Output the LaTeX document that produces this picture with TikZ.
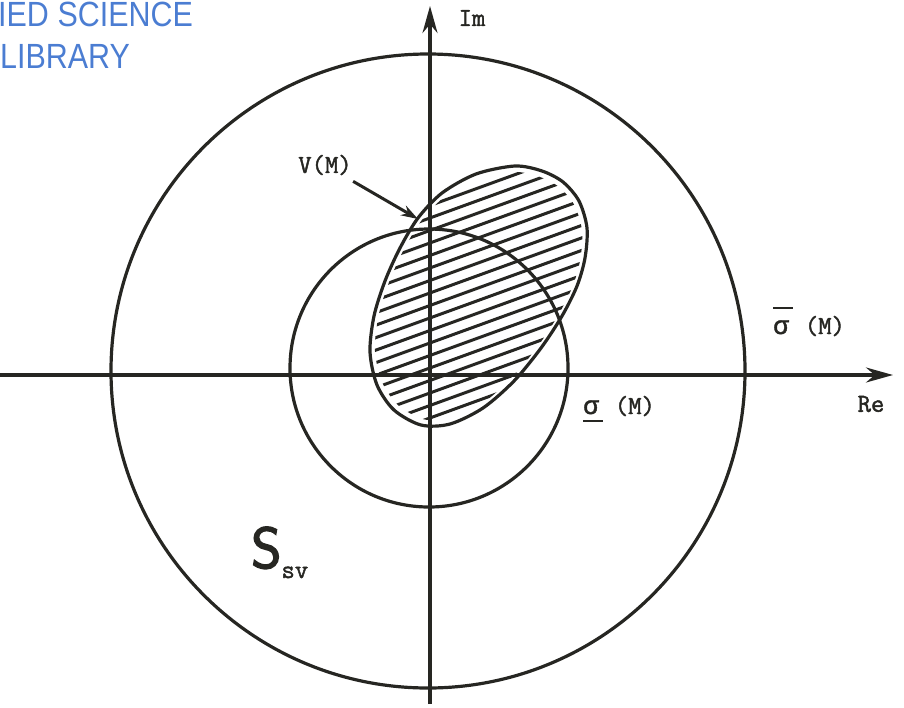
\documentclass[tikz,border=0pt]{standalone}
\usepackage{fontspec}
\usetikzlibrary{arrows.meta}
\newfontfamily\stampfont{Liberation Sans}
\newfontfamily\typewriter{Latin Modern Mono}[FakeBold=1.6]
\newfontfamily\greekmono{Liberation Mono}[FakeBold=1.6]
\newfontfamily\bigsans{Latin Modern Sans}[FakeBold=2.5]
\definecolor{stamp}{RGB}{75,125,210}
\definecolor{ink}{RGB}{38,38,34}
\newcommand{\vregionpath}{plot[smooth cycle] coordinates {(515,166) (542,171) (563,182) (579,201) (587,228) (585,258) (577,286) (562,316) (541,348) (514,381) (483,408) (450,424) (421,425) (394,410) (377,385) (370,352) (374,316) (385,281) (400,248) (418,218) (442,193) (476,174)}}

\begin{document}
\begin{tikzpicture}[
    x=1pt, y=-1pt,
    curve/.style={draw=ink, line width=3.2pt},
    axis/.style={draw=ink, line width=3.2pt, -{Stealth[length=27pt, width=15pt]}},
    hatch/.style={draw=ink, line width=3pt},
    pointer/.style={draw=ink, line width=3pt, -{Stealth[length=17pt, width=11pt]}},
    lbl/.style={inner sep=0pt, text=ink, font=\typewriter\fontsize{26}{30}\selectfont},
    stamplbl/.style={inner sep=0pt, anchor=base west, text=stamp, font=\stampfont\fontsize{35}{40}\selectfont}
]
    \useasboundingbox (0,0) rectangle (904,707);

    % Stamp
    \node[stamplbl] (stampa) at (-2,26) {\scalebox{0.87}[1]{IED\hspace{10pt}SCIENCE}};
    \node[stamplbl] (stampb) at (0,68) {\scalebox{0.87}[1]{LIBRARY}};

    % Circles
    \draw[curve] (428,371) circle (317);
    \draw[curve] (429,368) circle (139);

    % V(M) region
    \begin{scope}
        \clip[shift={(478,297)}, scale=0.955, shift={(-478,-297)}] \vregionpath;
        \foreach \c in {222,234.5,...,470}
            \draw[hatch] (350,\c) -- (620,\c-98);
    \end{scope}
    \draw[curve] \vregionpath;

    % Axes
    \coordinate (reW) at (0,375);
    \coordinate (reE) at (893,375);
    \coordinate (imS) at (430,704);
    \coordinate (imN) at (430,6);
    \draw[axis] (reW) -- (reE);
    \draw[axis] (imS) -- (imN);

    % Labels
    \node[lbl] (im) at (472,18) {Im};
    \node[lbl] (re) at (871,404) {Re};
    \node[lbl] (vm) at (325,165) {V(M)};
    \coordinate (vmtip) at (418,219);
    \draw[pointer, shorten <=12pt] (vm) -- (vmtip);
    \node[lbl, anchor=base west] (sigup) at (773,334)
        {\rlap{\raisebox{25pt}{\rule{20pt}{2.4pt}}}{\greekmono σ}\hspace{16pt}(M)};
    \node[lbl, anchor=base west] (siglow) at (583,414)
        {\rlap{\raisebox{-8pt}{\rule{20pt}{2.4pt}}}{\greekmono σ}\hspace{16pt}(M)};
    \node[inner sep=0pt, anchor=base west, text=ink] (ssv) at (251,568)
        {\bigsans\fontsize{58}{60}\selectfont S\raisebox{-10pt}{\typewriter\fontsize{26}{30}\selectfont sv}};
\end{tikzpicture}
\end{document}
